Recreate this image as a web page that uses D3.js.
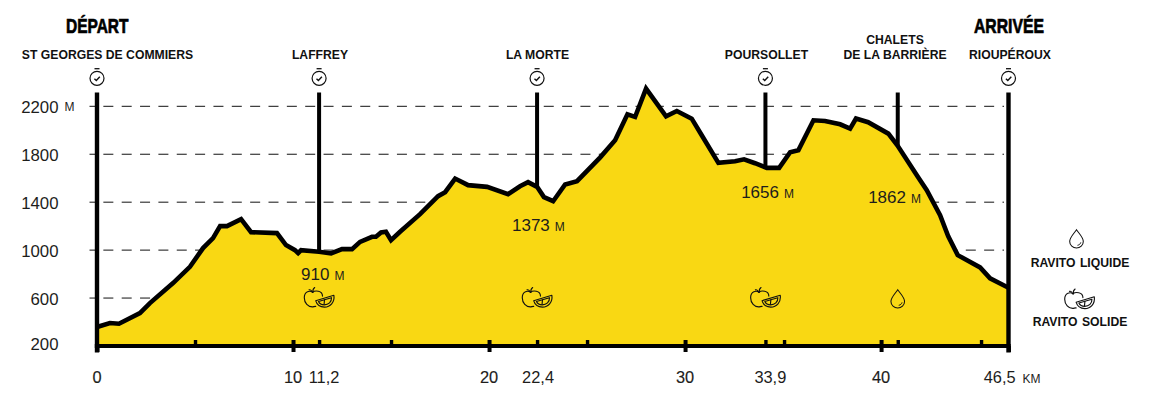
<!DOCTYPE html>
<html><head><meta charset="utf-8">
<script src="https://cdn.jsdelivr.net/npm/d3@7/dist/d3.min.js"></script>
<style>
html,body{margin:0;padding:0;background:#fff}
svg{display:block}
text{font-family:"Liberation Sans",Arial,sans-serif;fill:#1d1d1b}
</style></head><body><svg id="c" width="1152" height="395"></svg>
<script>
const profileKm=[0,0.66,1.12,2.19,2.7,3.88,4.74,5.41,5.92,6.28,6.63,7.35,7.86,9.18,9.64,10.1,10.26,10.41,11.33,11.94,12.5,13.01,13.42,14.03,14.23,14.49,14.74,15,15.46,16.48,17.4,17.76,18.27,18.93,19.9,20.97,21.58,21.99,22.45,22.8,23.27,23.88,24.49,25.66,26.43,27.06,27.45,28.01,29.03,29.58,30.34,30.85,31.7,32.55,33.01,33.57,34.17,34.8,35.36,35.78,36.55,37.14,37.91,38.42,38.72,39.34,40.37,40.83,41.89,42.33,43.01,43.42,43.91,45.05,45.56,46.5];
const profileEle=[358,392,386,475,558,725,861,1017,1100,1200,1200,1258,1150,1142,1042,1000,975,1000,986,972,1008,1008,1069,1111,1111,1147,1153,1083,1153,1300,1450,1483,1597,1542,1528,1467,1533,1567,1528,1442,1408,1548,1575,1772,1917,2133,2111,2348,2117,2161,2097,1958,1728,1742,1758,1725,1686,1686,1817,1833,2083,2078,2050,2014,2098,2067,1972,1875,1608,1500,1292,1117,958,856,764,686];
const yTicks=[200,600,1000,1400,1800,2200];
const gridTicks=[600,1000,1400,1800,2200];
const majorKm=[0,10,20,30,40,46.5];
const minorKm=[5,11.33,15,22.45,25,34.1,35.05,40.85,45.1];
const xLabels=["0","10","11,2","20","22,4","30","33,9","40","46,5"];
const xLabelKm=[0,10,11.58,20,22.5,30,34.35,40,46.05];
const xLabelStrong=[true,true,false,true,false,true,false,true,false];
const stationKm=[0,11.33,22.45,34.1,40.85,46.5];
const stationNames=[["ST GEORGES DE COMMIERS"],["LAFFREY"],["LA MORTE"],["POURSOLLET"],["CHALETS","DE LA BARRIÈRE"],["RIOUPÉROUX"]];
const stationHasWatch=[true,true,true,true,false,true];
const altLabels=["910","1373","1656","1862"];
const altKm=[10.41,21.17,32.86,39.34];
const altEle=[750,1161,1433,1392];
const fruitKm=[11.33,22.45,34.1];
const dropKm=[40.85];

const svg=d3.select("#c");
const x=d3.scaleLinear().domain([0,46.5]).range([97,1008.5]);
const y=d3.scaleLinear().domain([200,2200]).range([346,106.3]);
const pts=profileKm.map((k,i)=>[k,profileEle[i]]);
const eleAt=k=>{const i=d3.bisectLeft(profileKm,k);if(i<=0)return profileEle[0];const t=(k-profileKm[i-1])/(profileKm[i]-profileKm[i-1]);return profileEle[i-1]+t*(profileEle[i]-profileEle[i-1]);};

svg.append("g").selectAll("line").data(gridTicks).join("line")
 .attr("x1",89.5).attr("x2",1004).attr("y1",d=>y(d)).attr("y2",d=>y(d))
 .attr("stroke","#111").attr("stroke-width",1).attr("stroke-dasharray","10 8.35").attr("stroke-dashoffset",4.5);

svg.append("g").selectAll("line").data(stationKm.slice(1,-1)).join("line")
 .attr("x1",d=>x(d)).attr("x2",d=>x(d)).attr("y1",92.5).attr("y2",d=>y(eleAt(d)))
 .attr("stroke","#000").attr("stroke-width",4);

svg.append("path").datum(pts)
 .attr("d",d3.area().x(d=>x(d[0])).y0(y(200)).y1(d=>y(d[1])))
 .attr("fill","#f9d813");
svg.append("path").datum(pts)
 .attr("d",d3.line().x(d=>x(d[0])).y(d=>y(d[1])))
 .attr("fill","none").attr("stroke","#000").attr("stroke-width",4.6).attr("stroke-linejoin","miter");

const gMajor=svg.append("g").attr("transform",`translate(0,${y(200)})`)
 .call(d3.axisBottom(x).tickValues(majorKm).tickSize(6).tickFormat(""));
gMajor.select(".domain").remove();
gMajor.selectAll("line").attr("stroke","#000").attr("stroke-width",4);
const gMajor2=svg.append("g").attr("transform",`translate(0,${y(200)})`)
 .call(d3.axisTop(x).tickValues(majorKm.slice(1,-1)).tickSize(6).tickFormat(""));
gMajor2.select(".domain").remove();
gMajor2.selectAll("line").attr("stroke","#000").attr("stroke-width",4);
const gMinor=svg.append("g").attr("transform",`translate(0,${y(200)})`)
 .call(d3.axisTop(x).tickValues(minorKm).tickSize(6).tickFormat(""));
gMinor.select(".domain").remove();
gMinor.selectAll("line").attr("stroke","#000").attr("stroke-width",3.4);

svg.append("line").attr("x1",x(0)-2.2).attr("x2",x(46.5)+2.2).attr("y1",y(200)).attr("y2",y(200)).attr("stroke","#000").attr("stroke-width",4);
svg.append("g").selectAll("line").data([0,46.5]).join("line")
 .attr("x1",d=>x(d)).attr("x2",d=>x(d)).attr("y1",92.5).attr("y2",352.5)
 .attr("stroke","#000").attr("stroke-width",4.4);

const yAxis=svg.append("g").attr("transform","translate(58.5,0)")
 .call(d3.axisLeft(y).tickValues(yTicks).tickSize(0).tickPadding(0).tickFormat(d=>d));
yAxis.select(".domain").remove();
yAxis.selectAll("text").attr("font-size",16.8).attr("font-family",'"Liberation Sans"').attr("fill","#1d1d1b")
 .attr("dy",d=>d===200?"0.22em":"0.36em");
svg.append("text").attr("x",64.5).attr("y",111).attr("font-size",12).text("M");

svg.append("g").selectAll("text").data(xLabels).join("text")
 .attr("x",(d,i)=>x(xLabelKm[i])).attr("y",383).attr("text-anchor","middle").attr("font-size",16.4)
 .attr("stroke",(d,i)=>xLabelStrong[i]?"#1d1d1b":"none").attr("stroke-width",0.15).text(d=>d);
svg.append("text").attr("x",1022.5).attr("y",383).attr("font-size",12).text("KM");

function title(t,xx,w){svg.append("text").attr("x",xx).attr("y",33).attr("font-size",20)
 .attr("font-family",'"Liberation Sans Narrow","Liberation Sans"').attr("font-weight",700)
 .attr("textLength",w).attr("lengthAdjust","spacingAndGlyphs").style("fill","#000")
 .attr("stroke","#000").attr("stroke-width",0.7).text(t);}
title("DÉPART",66,62.5);
title("ARRIVÉE",974,70);

const nameCx=[107.5,320,537.5,766.5,895,1010];
stationNames.forEach((lines,i)=>{
 lines.forEach((l,j)=>{
  svg.append("text").attr("x",nameCx[i]).attr("y",58.5-(lines.length-1-j)*15)
   .attr("text-anchor","middle").attr("font-size",12.2).attr("font-weight",700).style("fill","#111").text(l);
 });
});

function watch(g){
 g.append("circle").attr("r",7).attr("fill","none").attr("stroke","#111").attr("stroke-width",1.2);
 g.append("path").attr("d","M-2.5,-9.6H2.5").attr("stroke","#111").attr("stroke-width",1.3);
 g.append("path").attr("d","M-2.6,0.4L-0.7,2.2L2.8,-1.6").attr("fill","none").attr("stroke","#111").attr("stroke-width",1.4);
}
stationKm.forEach((k,i)=>{ if(stationHasWatch[i]) svg.append("g").attr("transform",`translate(${x(k)},78.3)`).call(watch); });

altLabels.forEach((t,i)=>{
 const e=svg.append("text").attr("x",x(altKm[i])).attr("y",y(altEle[i])).attr("font-size",17);
 e.append("tspan").text(t);
 e.append("tspan").attr("font-size",12).attr("dx",5).text("M");
});

function fruit(g){
 const s={fill:"none",stroke:"#111","stroke-width":1.15,"stroke-linejoin":"round","stroke-linecap":"round"};
 const p=d=>{const q=g.append("path").attr("d",d);Object.entries(s).forEach(([a,b])=>q.attr(a,b));return q;};
 p("M-6.5,-5.2C-9,-7.2 -14.8,-6.5 -14.8,0.2C-14.8,5.6 -10.8,9.4 -6.8,9.4C-5.4,9.4 -5,8.8 -3.4,8.9");
 p("M-6.5,-5.2C-4.4,-7.2 3.4,-7.4 3.4,-1.4");
 p("M-6.2,-5.2C-6.4,-7.5 -6,-9 -4.4,-10");
 p("M-10,-7.6C-8.8,-8 -7.6,-7.2 -7,-5.6");
 p("M-3.4,3.2L14.8,-2.2C15.8,4.8 11,9.6 5.4,9.6C0.6,9.6 -2.2,7.4 -3.4,3.2Z");
 p("M-0.6,4L12.4,0.2C12.6,4.6 9.4,7.4 5.2,7.4C2.4,7.4 0.4,6.2 -0.6,4Z");
 p("M5,6.8L5.4,2.4");
}
function drop(g){
 g.append("path").attr("d","M0,-9.2C-2.4,-5.6 -6.8,-1.6 -6.8,2.6C-6.8,6.4 -3.6,9 0,9C3.6,9 6.8,6.4 6.8,2.6C6.8,-1.6 2.4,-5.6 0,-9.2Z")
  .attr("fill","none").attr("stroke","#111").attr("stroke-width",1.05);
 g.append("path").attr("d","M1,6.3C2.6,6 3.9,5 4.3,3.4").attr("fill","none").attr("stroke","#111").attr("stroke-width",1);
}
fruitKm.forEach(k=>svg.append("g").attr("transform",`translate(${x(k)},297.5)`).call(fruit));
dropKm.forEach(k=>svg.append("g").attr("transform",`translate(${x(k)},299)`).call(drop));
svg.append("g").attr("transform","translate(1076.5,239)").call(drop);
svg.append("g").attr("transform","translate(1079.5,299)").call(fruit);
svg.append("text").attr("x",1080).attr("y",266.5).attr("text-anchor","middle").attr("font-size",12.2).attr("font-weight",700).attr("word-spacing",1).style("fill","#111").text("RAVITO LIQUIDE");
svg.append("text").attr("x",1080).attr("y",325.7).attr("text-anchor","middle").attr("font-size",12.2).attr("font-weight",700).attr("word-spacing",1).style("fill","#111").text("RAVITO SOLIDE");
</script></body></html>
